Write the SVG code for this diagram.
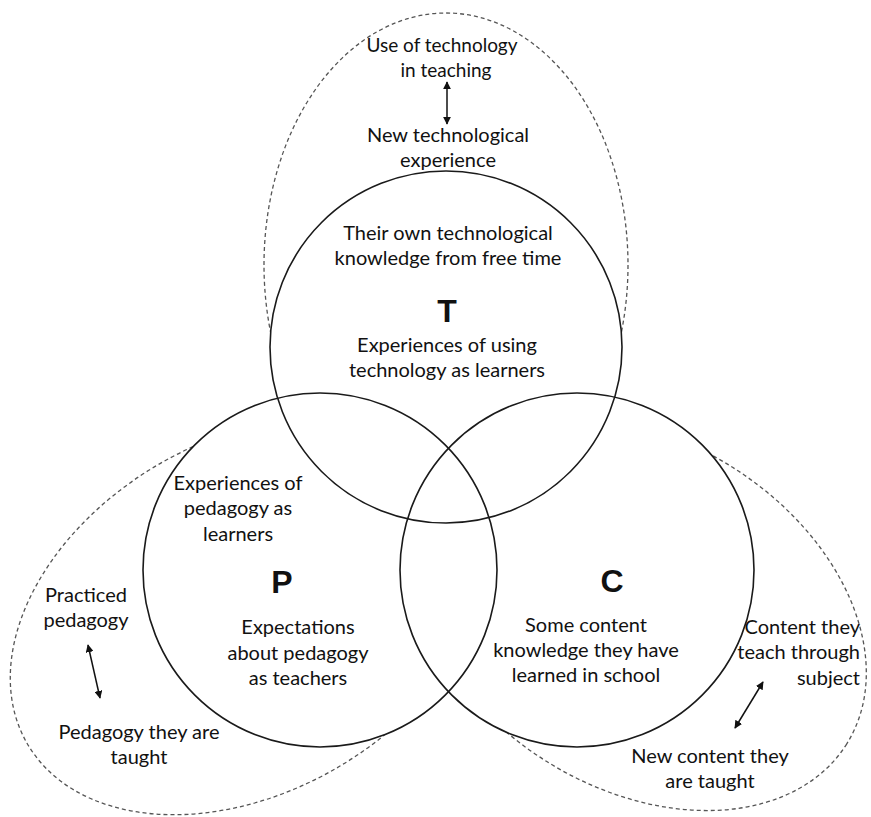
<svg xmlns="http://www.w3.org/2000/svg" width="871" height="817" viewBox="0 0 871 817">
<defs>
<style>
.dash{fill:none;stroke:#555;stroke-width:1.3;stroke-dasharray:4 3}
.cf{fill:#fff;stroke:none}
.cs{fill:none;stroke:#1a1a1a;stroke-width:1.6}
.t{font-family:Lato,"Liberation Sans",sans-serif;font-size:20px;fill:#111;text-anchor:middle}
.s{font-size:19px}
.r{text-anchor:end}
.big{font-family:"Liberation Sans",Arial,sans-serif;font-weight:bold;font-size:32px;fill:#111;text-anchor:middle}
.arr{stroke:#111;stroke-width:1.5;fill:none;marker-start:url(#ah);marker-end:url(#ah)}
</style>
<marker id="ah" viewBox="0 0 10 10" refX="9" refY="5" markerWidth="8" markerHeight="8" markerUnits="userSpaceOnUse" orient="auto-start-reverse">
<path d="M0,0 L10,5 L0,10 z" fill="#111"/>
</marker>
</defs>
<rect width="871" height="817" fill="#fff"/>
<g id="outer-ellipses">
<ellipse id="ellipse-T" class="dash" cx="446" cy="265" rx="182" ry="252"/>
<ellipse id="ellipse-P" class="dash" cx="248" cy="616" rx="255" ry="176" transform="rotate(-30 248 616)"/>
<ellipse id="ellipse-C" class="dash" cx="639" cy="614" rx="245" ry="174" transform="rotate(32 639 614)"/>
</g>
<g id="circle-fills">
<circle class="cf" cx="446" cy="347" r="176"/>
<circle class="cf" cx="320" cy="570" r="177"/>
<circle class="cf" cx="577" cy="570" r="177"/>
</g>
<g id="node-T">
<circle class="cs" cx="446" cy="347" r="176"/>
<text class="big" x="447" y="322">T</text>
<text class="t" x="448" y="240">Their own technological</text>
<text class="t" x="448" y="265">knowledge from free time</text>
<text class="t" x="447" y="352">Experiences of using</text>
<text class="t" x="447" y="377">technology as learners</text>
</g>
<g id="node-P">
<circle class="cs" cx="320" cy="570" r="177"/>
<text class="big" x="282" y="593">P</text>
<text class="t" x="238" y="490">Experiences of</text>
<text class="t" x="238" y="515">pedagogy as</text>
<text class="t" x="238" y="541">learners</text>
<text class="t" x="298" y="634">Expectations</text>
<text class="t" x="298" y="660">about pedagogy</text>
<text class="t" x="298" y="685">as teachers</text>
</g>
<g id="node-C">
<circle class="cs" cx="577" cy="570" r="177"/>
<text class="big" x="612" y="592">C</text>
<text class="t" x="586" y="632">Some content</text>
<text class="t" x="586" y="657">knowledge they have</text>
<text class="t" x="586" y="682">learned in school</text>
</g>
<g id="outer-T">
<text class="t s" x="442" y="52">Use of technology</text>
<text class="t s" x="446" y="77">in teaching</text>
<text class="t" x="448" y="142">New technological</text>
<text class="t" x="448" y="167">experience</text>
</g>
<g id="outer-P">
<text class="t" x="86" y="602">Practiced</text>
<text class="t" x="86" y="627">pedagogy</text>
<text class="t" x="139" y="739">Pedagogy they are</text>
<text class="t" x="139" y="764">taught</text>
</g>
<g id="outer-C">
<text class="t r" x="860" y="634">Content they</text>
<text class="t r" x="860" y="659">teach through</text>
<text class="t r" x="860" y="685">subject</text>
<text class="t" x="710" y="763">New content they</text>
<text class="t" x="710" y="788">are taught</text>
</g>
<g id="connectors">
<line class="arr" x1="447" y1="82" x2="447" y2="124"/>
<line class="arr" x1="88" y1="645" x2="100" y2="698"/>
<line class="arr" x1="763" y1="682" x2="735" y2="728"/>
</g>
</svg>
